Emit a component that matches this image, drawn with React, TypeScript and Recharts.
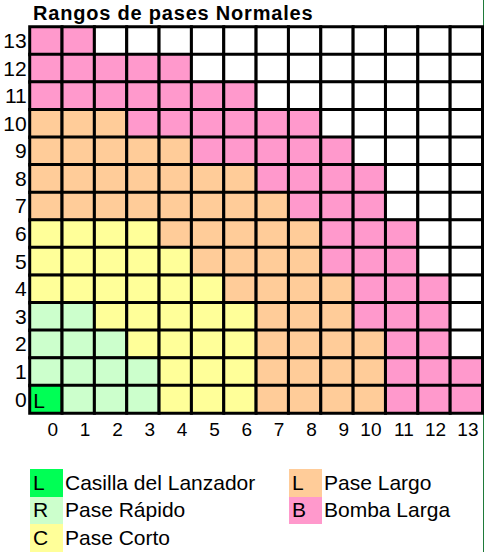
import React from 'react';
import { BarChart, Bar, XAxis, YAxis, Cell, LabelList } from 'recharts';

// rows 0..13 (bottom to top); each value is the column where that range ends (exclusive)
const filas = [0, 1, 2, 3, 4, 5, 6, 7, 8, 9, 10, 11, 12, 13];
const columnas = [0, 1, 2, 3, 4, 5, 6, 7, 8, 9, 10, 11, 12, 13];
const rapidoHasta = [4, 4, 3, 2, 0, 0, 0, 0, 0, 0, 0, 0, 0, 0];
const cortoHasta = [7, 7, 7, 7, 6, 5, 4, 0, 0, 0, 0, 0, 0, 0];
const largoHasta = [11, 11, 11, 10, 10, 9, 9, 8, 7, 5, 3, 0, 0, 0];
const bombaHasta = [14, 14, 13, 13, 13, 12, 12, 11, 11, 10, 9, 7, 5, 2];
const lanzador = { fila: 0, columna: 0, letra: 'L' };

const leyendaLetras = ['L', 'R', 'C', 'L', 'B'];
const leyendaTextos = ['Casilla del Lanzador', 'Pase Rápido', 'Pase Corto', 'Pase Largo', 'Bomba Larga'];
const leyendaColores = ['#00FF55', '#CCFFCC', '#FFFF99', '#FFCC99', '#FF99CC'];

const FONT = '"Liberation Sans", Arial, sans-serif';

const colorCelda = (fila: number, col: number) => {
  if (fila === lanzador.fila && col === lanzador.columna) return leyendaColores[0];
  if (col < rapidoHasta[fila]) return leyendaColores[1];
  if (col < cortoHasta[fila]) return leyendaColores[2];
  if (col < largoHasta[fila]) return leyendaColores[3];
  if (col < bombaHasta[fila]) return leyendaColores[4];
  return '#FFFFFF';
};

// top row first for a vertical layout
const data = [...filas].reverse().map((fila) => {
  const row: Record<string, number | string> = { fila: String(fila) };
  columnas.forEach((c) => (row[`c${c}`] = 1));
  return row;
});

const xTicks = columnas.map((c) => c + 1);

const YTick = ({ x, y, payload }: any) => (
  <text x={x} y={y} textAnchor="end" dominantBaseline="central" fontSize={21} fontFamily={FONT} fill="#000">
    {payload.value}
  </text>
);

const XTick = ({ x, y, payload }: any) => (
  <text x={x - 4} y={y + 17} textAnchor="end" dominantBaseline="central" fontSize={19} fontFamily={FONT} fill="#000">
    {payload.value - 1}
  </text>
);

const LetraLanzador = (props: any) => {
  const { x, y, height, index } = props;
  if (data[index] && data[index].fila !== String(lanzador.fila)) return null;
  return (
    <text x={x + 3.5} y={y + height / 2 + 1} dominantBaseline="central" fontSize={21} fontFamily={FONT} fill="#000">
      {lanzador.letra}
    </text>
  );
};

const Leyenda = () => {
  const pos = [
    { left: 30, top: 469 },
    { left: 30, top: 496.5 },
    { left: 30, top: 524 },
    { left: 289, top: 469 },
    { left: 289, top: 496.5 },
  ];
  return (
    <>
      {leyendaTextos.map((t, i) => (
        <div
          key={i}
          style={{ position: 'absolute', left: pos[i].left, top: pos[i].top, height: 27.5, display: 'flex', alignItems: 'center', fontFamily: FONT, fontSize: 21, color: '#000' }}
        >
          <div style={{ width: 33, height: 27.5, background: leyendaColores[i], display: 'flex', alignItems: 'center', paddingLeft: 3, boxSizing: 'border-box' }}>
            {leyendaLetras[i]}
          </div>
          <span style={{ marginLeft: 2, whiteSpace: 'nowrap' }}>{t}</span>
        </div>
      ))}
    </>
  );
};

export default function App() {
  return (
    <div style={{ position: 'absolute', left: 0, top: 0, width: 484, height: 552, background: '#fff', overflow: 'hidden' }}>
      <div style={{ position: 'absolute', left: 483, top: 0, width: 1, height: 552, background: '#1f7a3a' }} />
      <div
        style={{ position: 'absolute', left: 33, top: 1, fontFamily: FONT, fontWeight: 'bold', fontSize: 20, letterSpacing: 0.8, whiteSpace: 'nowrap', lineHeight: '24px' }}
      >
        Rangos de pases Normales
      </div>
      <div style={{ position: 'absolute', left: 0, top: 0 }}>
        <BarChart
          width={484}
          height={445}
          data={data}
          layout="vertical"
          barCategoryGap={0}
          barGap={0}
          margin={{ top: 26.7, right: 1.5, bottom: 2.2, left: 0 }}
        >
          <XAxis
            type="number"
            domain={[0, 14]}
            ticks={xTicks}
            axisLine={false}
            tickLine={false}
            tickSize={0}
            tickMargin={0}
            height={30}
            tick={<XTick />}
            interval={0}
          />
          <YAxis
            type="category"
            dataKey="fila"
            width={29.7}
            axisLine={false}
            tickLine={false}
            tickSize={0}
            tickMargin={3}
            tick={<YTick />}
            interval={0}
          />
          {columnas.map((c) => (
            <Bar key={c} dataKey={`c${c}`} stackId="g" isAnimationActive={false} stroke="#000" strokeWidth={3}>
              {data.map((row, i) => (
                <Cell key={i} fill={colorCelda(Number(row.fila), c)} />
              ))}
              {c === lanzador.columna && <LabelList dataKey={`c${c}`} content={<LetraLanzador />} />}
            </Bar>
          ))}
        </BarChart>
      </div>
      <Leyenda />
    </div>
  );
}
